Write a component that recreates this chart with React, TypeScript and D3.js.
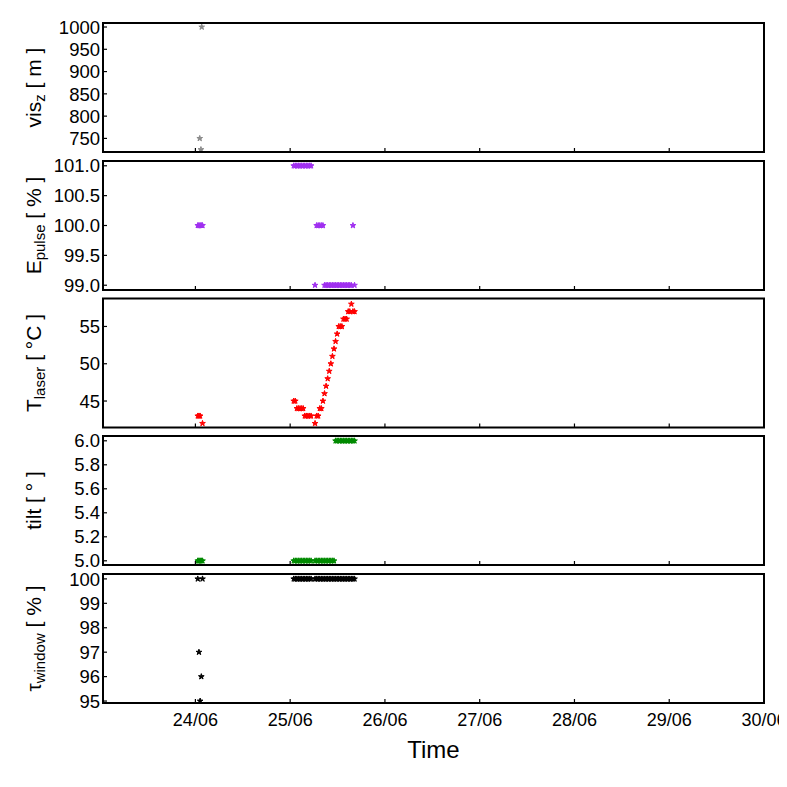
import React from "react";
import * as d3 from "d3";

// sample times, hours after 24/06 00:00
const sampleHours = [
  0.6, 0.9, 1.2, 1.5, 1.8,
  24.9, 25.3, 25.7, 26.1, 26.5, 26.9, 27.3, 27.7, 28.1, 28.5, 28.9, 29.3,
  30.3, 30.7, 31.1, 31.5, 31.9, 32.3, 32.7, 33.1, 33.5, 33.9, 34.3, 34.7, 35.1,
  35.5, 35.9, 36.3, 36.7, 37.1, 37.5, 37.9, 38.3, 38.7, 39.1, 39.5, 39.9, 40.3,
];

// visibility only has three readings
const visHours = [1.1, 1.4, 1.6];
const visValues = [750, 725, 1000];

const ePulse = [
  100, 100, 100, 100, 100,
  101, 101, 101, 101, 101, 101, 101, 101, 101, 101, 101, 101,
  99, 100, 100, 100, 100, 100, 99, 99, 99, 99, 99, 99, 99,
  99, 99, 99, 99, 99, 99, 99, 99, 99, 99, 99, 100, 99,
];

const tLaser = [
  43, 43, 43, null, 42,
  45, 45, 44, 44, 44, 44, 44, 43, 43, 43, 43, 43,
  42, 43, 43, 44, 44, 45, 46, 47, 48, 49, 50, 51, 52,
  53, 54, 55, 55, 55, 56, 56, 56, 57, 57, 58, 57, 57,
];

const tilt = [
  5, 5, 5, 5, 5,
  5, 5, 5, 5, 5, 5, 5, 5, 5, 5, 5, 5,
  5, 5, 5, 5, 5, 5, 5, 5, 5, 5, 5, 5, 5,
  6, 6, 6, 6, 6, 6, 6, 6, 6, 6, 6, 6, 6,
];

const tauWindow = [
  100, 97, 95, 96, 100,
  100, 100, 100, 100, 100, 100, 100, 100, 100, 100, 100, 100,
  100, 100, 100, 100, 100, 100, 100, 100, 100, 100, 100, 100, 100,
  100, 100, 100, 100, 100, 100, 100, 100, 100, 100, 100, 100, 100,
];

const dayTicks = ["2013-06-24", "2013-06-25", "2013-06-26", "2013-06-27", "2013-06-28", "2013-06-29", "2013-06-30"];

const visTicks = [750, 800, 850, 900, 950, 1000];
const eTicks = [99, 99.5, 100, 100.5, 101];
const tTicks = [45, 50, 55];
const tiltTicks = [5, 5.2, 5.4, 5.6, 5.8, 6];
const tauTicks = [95, 96, 97, 98, 99, 100];

const FONT = "'Liberation Sans', Arial, Helvetica, sans-serif";
const t0 = Date.UTC(2013, 5, 24);
const hr = 3600 * 1000;

const left = 103;
const right = 764;
const tops = [23, 161, 298.5, 436, 574];
const ph = 129;

const x = d3.scaleUtc()
  .domain([new Date(t0 - 23.4 * hr), new Date(Date.UTC(2013, 5, 30))])
  .range([left, right]);

const star = d3.symbol().type(d3.symbolStar).size(10)();

function pts(hours, vals) {
  return hours.map((h, i) => ({ t: new Date(t0 + h * hr), v: vals[i] })).filter(d => d.v != null);
}

const panels = [
  { main: "vis", sub: "z", rest: " [ m ]", color: "#8a8a8a", domain: [719.5, 1009], ticks: visTicks, fmt: d3.format("d"), data: pts(visHours, visValues) },
  { main: "E", sub: "pulse", rest: " [ % ]", color: "#a030f0", domain: [98.92, 101.08], ticks: eTicks, fmt: d3.format(".1f"), data: pts(sampleHours, ePulse) },
  { main: "T", sub: "laser", rest: " [ \u00b0C ]", color: "#ff0000", domain: [41.45, 58.75], ticks: tTicks, fmt: d3.format("d"), data: pts(sampleHours, tLaser) },
  { main: "tilt [ \u00b0 ]", sub: "", rest: "", color: "#008a00", domain: [4.965, 6.04], ticks: tiltTicks, fmt: d3.format(".1f"), data: pts(sampleHours, tilt) },
  { main: "\u03c4", sub: "window", rest: " [ % ]", color: "#000000", domain: [94.92, 100.2], ticks: tauTicks, fmt: d3.format("d"), data: pts(sampleHours, tauWindow) },
];

function Panel({ p, top, last }) {
  const y = d3.scaleLinear().domain(p.domain).range([top + ph, top]);
  const cy = top + ph / 2;
  return (
    <g>
      {p.data.map((d, i) => (
        <path key={i} d={star} fill={p.color} stroke={p.color} strokeWidth={1}
          transform={`translate(${x(d.t)},${y(d.v)})`} />
      ))}
      <rect x={left} y={top} width={right - left} height={ph} fill="none" stroke="#000" strokeWidth={2} />
      {p.ticks.map(t => (
        <g key={t}>
          <line x1={left} x2={left + 4} y1={y(t)} y2={y(t)} stroke="#000" strokeWidth={1.2} />
          <text x={left - 3} y={y(t)} dy="0.36em" textAnchor="end" fontSize={18.5}>{p.fmt(t)}</text>
        </g>
      ))}
      {dayTicks.map(s => {
        const xx = x(new Date(s + "T00:00:00Z"));
        return (
          <g key={s}>
            <line x1={xx} x2={xx} y1={top + ph} y2={top + ph - 4} stroke="#000" strokeWidth={1.2} />
            {last && (
              <text x={xx} y={top + ph + 23} textAnchor="middle" fontSize={18}>
                {d3.utcFormat("%d/%m")(new Date(s + "T00:00:00Z"))}
              </text>
            )}
          </g>
        );
      })}
      <text transform={`translate(41,${cy}) rotate(-90)`} textAnchor="middle" fontSize={21} style={{ whiteSpace: "pre" }}>
        {p.main}
        {p.sub && <tspan fontSize={15} dy={4}>{p.sub}</tspan>}
        {p.sub && <tspan dy={-4}>{p.rest}</tspan>}
      </text>
    </g>
  );
}

export default function App() {
  return (
    <svg width={787} height={787} style={{ display: "block", margin: "-8px", background: "#fff" }} fontFamily={FONT}>
      <rect width={787} height={787} fill="#fff" />
      {panels.map((p, i) => (
        <Panel key={i} p={p} top={tops[i]} last={i === panels.length - 1} />
      ))}
      <text x={(left + right) / 2} y={758} textAnchor="middle" fontSize={24}>Time</text>
    </svg>
  );
}
